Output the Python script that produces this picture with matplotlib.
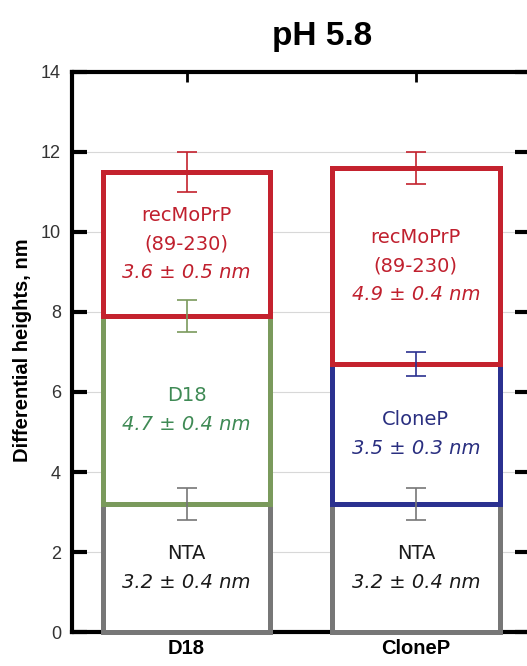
import numpy as np
import matplotlib.pyplot as plt

# stacked layers per sample, bottom to top
samples = ["D18", "CloneP"]
layer_names = [
    [["NTA"], ["D18"], ["recMoPrP", "(89-230)"]],
    [["NTA"], ["CloneP"], ["recMoPrP", "(89-230)"]],
]
heights = [[3.2, 4.7, 3.6], [3.2, 3.5, 4.9]]
errors = [[0.4, 0.4, 0.5], [0.4, 0.3, 0.4]]
edge_colors = [["#777777", "#7a9a5c", "#c4222e"], ["#777777", "#2b3190", "#c4222e"]]
text_colors = [["#1a1a1a", "#3f8a55", "#c0202e"], ["#1a1a1a", "#2a2f80", "#c0202e"]]
yticks = [0, 2, 4, 6, 8, 10, 12, 14]

fig = plt.figure(figsize=(5.27, 6.66), dpi=100)
ax = fig.add_axes([0.1366, 0.051, 0.87, 0.841])

x = np.arange(1, len(samples) + 1)
bar_w = 0.73
line_gap = 0.72

for i, xi in enumerate(x):
    bottom = 0.0
    for j, h in enumerate(heights[i]):
        ax.bar(xi, h, bottom=bottom, width=bar_w, color="white",
               edgecolor=edge_colors[i][j], linewidth=3.6, zorder=2.6,
               clip_on=False)
        top = bottom + h
        ax.errorbar(xi, top, yerr=errors[i][j], color=edge_colors[i][j],
                    capsize=7, capthick=1.2, elinewidth=1.2, zorder=4)
        # label lines: names upright, value italic
        lines = layer_names[i][j] + [f"{h:.1f} \u00b1 {errors[i][j]:.1f} nm"]
        n = len(lines)
        mid = bottom + h / 2
        for k, s in enumerate(lines):
            yy = mid + (n - 1) / 2 * line_gap - k * line_gap
            ax.text(xi, yy, s, ha="center", va="center", fontsize=14,
                    family="DejaVu Sans", color=text_colors[i][j],
                    style="italic" if k == n - 1 else "normal", zorder=3)
        bottom = top

ax.set_xlim(0.5, 2.5)
ax.set_ylim(0, 14)
ax.set_yticks(yticks)
ax.set_xticks(x)
ax.set_xticklabels(samples, fontsize=14.5, fontweight="bold",
                   family="Liberation Sans")
ax.set_yticklabels([str(t) for t in yticks], fontsize=13,
                   family="Liberation Sans", color="#333333")
ax.yaxis.grid(True, color="#d8d8d8", linewidth=0.8, zorder=0)
ax.set_axisbelow(True)

ax.tick_params(axis="y", direction="in", length=11, width=3, pad=8,
               left=True, right=True)
ax.tick_params(axis="x", direction="in", length=7, width=2, pad=5,
               top=True, bottom=True)
for sp in ax.spines.values():
    sp.set_linewidth(3)

fig.text(0.042, 0.474, "Differential heights, nm", rotation=90,
         ha="center", va="center", fontsize=14.5, fontweight="bold",
         family="Liberation Sans")
fig.text(0.611, 0.932, "pH 5.8", ha="center", va="baseline", fontsize=24,
         fontweight="bold", family="Liberation Sans")

fig.savefig("out.png", dpi=100)
